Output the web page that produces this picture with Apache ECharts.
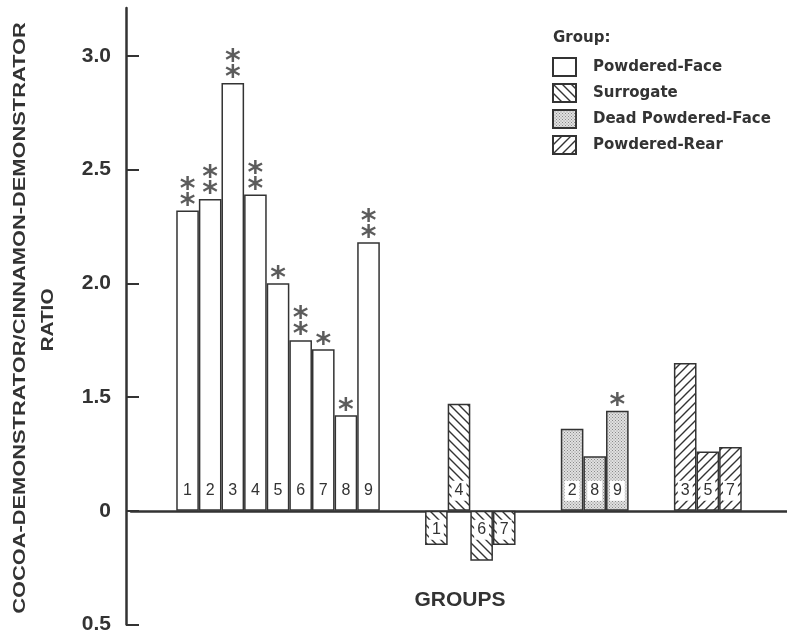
<!DOCTYPE html>
<html>
<head>
<meta charset="utf-8">
<script src="https://cdn.jsdelivr.net/npm/echarts@6/dist/echarts.min.js"></script>
<style>
  html, body { margin: 0; padding: 0; background: #fff; }
  #chart { width: 787px; height: 635px; }
</style>
</head>
<body>
<div id="chart"></div>
<script>
// values (ratios, baseline drawn at ratio 1)
const groupNames = ["Powdered-Face", "Surrogate", "Dead Powdered-Face", "Powdered-Rear"];

const pfLabels = ["1", "2", "3", "4", "5", "6", "7", "8", "9"];
const pfRatio = [2.32, 2.37, 2.88, 2.39, 2.0, 1.75, 1.71, 1.42, 2.18];
const pfSig = ["**", "**", "**", "**", "*", "**", "*", "*", "**"];

const surLabels = ["1", "4", "6", "7"];
const surRatio = [0.85, 1.47, 0.78, 0.85];
const surSig = ["", "", "", ""];

const deadLabels = ["2", "8", "9"];
const deadRatio = [1.36, 1.24, 1.44];
const deadSig = ["", "", "*"];

const rearLabels = ["3", "5", "7"];
const rearRatio = [1.65, 1.26, 1.28];
const rearSig = ["", "", ""];

const yTickValues = [0.5, 1.0, 1.5, 2.0, 2.5, 3.0];
const yTickLabels = ["0.5", "0", "1.5", "2.0", "2.5", "3.0"];

const BASE = 1; // ratio where bars start
const GAP = 2; // empty slots between groups

// fill patterns
function hatch(dir) {
  const s = 9;
  const c = document.createElement("canvas");
  c.width = s;
  c.height = s;
  const g = c.getContext("2d");
  g.fillStyle = "#fff";
  g.fillRect(0, 0, s, s);
  g.strokeStyle = "#333";
  g.lineWidth = 1.4;
  g.beginPath();
  if (dir === "\\") {
    g.moveTo(-1, -1); g.lineTo(s + 1, s + 1);
    g.moveTo(-1, s - 1); g.lineTo(1, s + 1);
    g.moveTo(s - 1, -1); g.lineTo(s + 1, 1);
  } else {
    g.moveTo(-1, s + 1); g.lineTo(s + 1, -1);
    g.moveTo(-1, 1); g.lineTo(1, -1);
    g.moveTo(s - 1, s + 1); g.lineTo(s + 1, s - 1);
  }
  g.stroke();
  return { image: c, repeat: "repeat" };
}
function stipple() {
  const c = document.createElement("canvas");
  c.width = 3;
  c.height = 3;
  const g = c.getContext("2d");
  g.fillStyle = "#e0e0e0";
  g.fillRect(0, 0, 3, 3);
  g.fillStyle = "#8a8a8a";
  g.fillRect(0, 0, 1, 1);
  g.fillRect(1.5, 1.5, 1, 1);
  return { image: c, repeat: "repeat" };
}
const fills = ["#fff", hatch("\\"), stipple(), hatch("/")];

// slot layout: gap, group, gap, group ... gap
const groups = [
  { labels: pfLabels, ratio: pfRatio, sig: pfSig },
  { labels: surLabels, ratio: surRatio, sig: surSig },
  { labels: deadLabels, ratio: deadRatio, sig: deadSig },
  { labels: rearLabels, ratio: rearRatio, sig: rearSig }
];
let categories = [];
let slotLabel = [];
let seriesData = groups.map(() => []);
let sigPoints = [];
function addGap() {
  for (let k = 0; k < GAP; k++) {
    categories.push("gap" + categories.length);
    slotLabel.push("");
    seriesData.forEach(d => d.push("-"));
  }
}
addGap();
groups.forEach((grp, gi) => {
  grp.labels.forEach((lab, i) => {
    const idx = categories.length;
    const v = +(grp.ratio[i] - BASE).toFixed(3);
    categories.push(groupNames[gi] + " " + lab);
    slotLabel.push(lab);
    seriesData.forEach((d, si) => {
      if (si !== gi) d.push("-");
      else if (v < 0) d.push({ value: v, label: { position: "insideTop", distance: 9 } });
      else d.push(v);
    });
    if (grp.sig[i]) sigPoints.push({ value: [idx, v], sig: grp.sig[i] });
  });
  addGap();
});

let myChart = echarts.init(document.getElementById("chart"));

let series = groupNames.map((name, gi) => ({
  name: name,
  type: "bar",
  stack: "all",
  barWidth: "100%",
  itemStyle: {
    color: fills[gi],
    borderColor: "#333",
    borderWidth: 1.5
  },
  label: {
    show: true,
    position: "insideBottom",
    distance: 10,
    formatter: p => slotLabel[p.dataIndex],
    fontFamily: "Liberation Sans",
    fontSize: 16,
    color: "#333",
    backgroundColor: "#fff",
    padding: [2, 3]
  },
  emphasis: { disabled: true },
  data: seriesData[gi]
}));

// significance asterisks above bars
series.push({
  type: "scatter",
  symbolSize: 1,
  itemStyle: { color: "rgba(0,0,0,0)" },
  silent: true,
  z: 5,
  label: {
    show: true,
    position: "top",
    distance: -4,
    formatter: p => p.data.sig.split("").join("\n"),
    fontFamily: "DejaVu Sans",
    fontWeight: "bold",
    fontSize: 30,
    lineHeight: 16,
    color: "#333"
  },
  data: sigPoints
});

let option = {
  animation: false,
  grid: { left: 131, top: 8, width: 660, height: 619 },
  legend: {
    data: groupNames,
    orient: "vertical",
    left: 552,
    top: 57,
    padding: 0,
    icon: "rect",
    itemWidth: 23,
    itemHeight: 18,
    itemGap: 6,
    selectedMode: false,
    textStyle: {
      fontFamily: "DejaVu Sans",
      fontWeight: "bold",
      fontSize: 15,
      color: "#333",
      padding: [0, 0, 0, 12]
    }
  },
  xAxis: {
    type: "category",
    data: categories,
    axisLine: { lineStyle: { color: "#333", width: 2.5 } },
    axisTick: { show: false },
    axisLabel: { show: false }
  },
  yAxis: {
    type: "value",
    min: yTickValues[0] - BASE,
    max: 2.21,
    offset: 5,
    axisLine: { show: true, lineStyle: { color: "#333", width: 2.5 } },
    axisTick: {
      show: true,
      inside: true,
      length: 13,
      lineStyle: { color: "#333", width: 2 },
      customValues: yTickValues.map(v => v - BASE)
    },
    axisLabel: {
      customValues: yTickValues.map(v => v - BASE),
      formatter: v => {
        let i = yTickValues.findIndex(t => Math.abs(t - BASE - v) < 1e-6);
        return i >= 0 ? yTickLabels[i] : "";
      },
      fontFamily: "Liberation Sans",
      fontWeight: "bold",
      fontSize: 21,
      color: "#333",
      margin: 15
    },
    splitLine: { show: false }
  },
  graphic: [
    {
      type: "text",
      x: 21,
      y: 318,
      rotation: Math.PI / 2,
      scaleX: 1.365,
      style: {
        text: "COCOA-DEMONSTRATOR/CINNAMON-DEMONSTRATOR",
        font: 'bold 16px "Liberation Sans"',
        fill: "#333",
        align: "center",
        verticalAlign: "middle"
      }
    },
    {
      type: "text",
      x: 49,
      y: 320,
      rotation: Math.PI / 2,
      scaleX: 1.3,
      style: {
        text: "RATIO",
        font: 'bold 16px "Liberation Sans"',
        fill: "#333",
        align: "center",
        verticalAlign: "middle"
      }
    },
    {
      type: "text",
      x: 460,
      y: 600,
      style: {
        text: "GROUPS",
        font: 'bold 21px "Liberation Sans"',
        fill: "#333",
        align: "center",
        verticalAlign: "middle"
      }
    },
    {
      type: "text",
      x: 553,
      y: 38,
      style: {
        text: "Group:",
        font: 'bold 15px "DejaVu Sans"',
        fill: "#333",
        align: "left",
        verticalAlign: "middle"
      }
    }
  ],
  series: series
};

myChart.setOption(option, true);
</script>
</body>
</html>
